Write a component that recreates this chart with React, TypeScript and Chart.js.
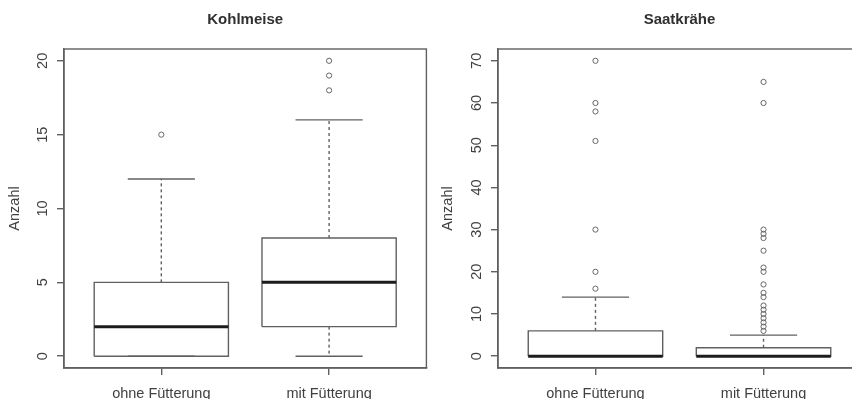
import React, { useEffect, useRef } from "react";
import { Chart, registerables } from "chart.js";

Chart.register(...registerables);

// ---------- data ----------
const categories = ["ohne Fütterung", "mit Fütterung"];

const kohlmeiseTitle = "Kohlmeise";
const kohlmeiseLowerWhisker = [0, 0];
const kohlmeiseQ1 = [0, 2];
const kohlmeiseMedian = [2, 5];
const kohlmeiseQ3 = [5, 8];
const kohlmeiseUpperWhisker = [12, 16];
const kohlmeiseOutliers = [[15], [18, 19, 20]];
const kohlmeiseTicks = [0, 5, 10, 15, 20];

const saatkraeheTitle = "Saatkrähe";
const saatkraeheLowerWhisker = [0, 0];
const saatkraeheQ1 = [0, 0];
const saatkraeheMedian = [0, 0];
const saatkraeheQ3 = [6, 2];
const saatkraeheUpperWhisker = [14, 5];
const saatkraeheOutliers = [
  [16, 20, 30, 51, 58, 60, 70],
  [6, 7, 8, 9, 10, 11, 12, 14, 15, 17, 20, 21, 25, 28, 29, 30, 60, 65],
];
const saatkraeheTicks = [0, 10, 20, 30, 40, 50, 60, 70];

const yAxisTitle = "Anzahl";

// ---------- styles ----------
const FONT = "'Liberation Sans', Arial, Helvetica, sans-serif";
const LINE = "#606060";
const TEXT = "#404040";
const BOX_HALF = 0.4;
const CAP_HALF = 0.2;

type BoxData = {
  title: string;
  lower: number[];
  q1: number[];
  median: number[];
  q3: number[];
  upper: number[];
  outliers: number[][];
  ticks: number[];
};

function buildDatasets(b: BoxData) {
  const ds: any[] = [];
  const line = (pts: { x: number; y: number }[], order: number, extra: any = {}) =>
    ds.push({
      type: "line",
      data: pts,
      borderColor: LINE,
      borderWidth: 1.4,
      pointRadius: 0,
      pointHoverRadius: 0,
      fill: false,
      tension: 0,
      order,
      ...extra,
    });
  for (let i = 0; i < categories.length; i++) {
    const x = i + 1;
    line([{ x, y: b.q3[i] }, { x, y: b.upper[i] }], 5, { borderDash: [3, 3] });
    line([{ x, y: b.q1[i] }, { x, y: b.lower[i] }], 5, { borderDash: [3, 3] });
    line([{ x: x - CAP_HALF, y: b.upper[i] }, { x: x + CAP_HALF, y: b.upper[i] }], 4);
    line([{ x: x - CAP_HALF, y: b.lower[i] }, { x: x + CAP_HALF, y: b.lower[i] }], 4);
    line(
      [
        { x: x - BOX_HALF, y: b.q1[i] },
        { x: x + BOX_HALF, y: b.q1[i] },
        { x: x + BOX_HALF, y: b.q3[i] },
        { x: x - BOX_HALF, y: b.q3[i] },
        { x: x - BOX_HALF, y: b.q1[i] },
      ],
      3,
      { borderJoinStyle: "miter" }
    );
    line([{ x: x - BOX_HALF, y: b.median[i] }, { x: x + BOX_HALF, y: b.median[i] }], 2, {
      borderColor: "#1c1c1c",
      borderWidth: 3,
    });
    ds.push({
      type: "scatter",
      data: b.outliers[i].map((y) => ({ x, y })),
      pointRadius: 2.6,
      pointHoverRadius: 2.6,
      pointStyle: "circle",
      pointBorderColor: "#666666",
      pointBackgroundColor: "rgba(0,0,0,0)",
      pointBorderWidth: 1,
      showLine: false,
      order: 1,
    });
  }
  return ds;
}

const framePlugin = {
  id: "frame",
  afterDraw(chart: any) {
    const { ctx, chartArea: a } = chart;
    ctx.save();
    ctx.strokeStyle = LINE;
    ctx.lineWidth = 1.4;
    ctx.strokeRect(a.left, a.top, a.right - a.left, a.bottom - a.top);
    ctx.restore();
  },
};

function Panel(props: {
  data: BoxData;
  left: number;
  width: number;
  yAxisWidth: number;
  rightPad: number;
  yTitlePad: number;
}) {
  const ref = useRef<HTMLCanvasElement>(null);
  const { data, left, width, yAxisWidth, rightPad, yTitlePad } = props;
  useEffect(() => {
    if (!ref.current) return;
    const all = [
      ...data.lower,
      ...data.upper,
      ...data.q1,
      ...data.q3,
      ...data.outliers.flat(),
    ];
    const lo = Math.min(...all);
    const hi = Math.max(...all);
    const ext = (hi - lo) * 0.04;
    const xLo = 0.5 - 0.04 * (categories.length - 0);
    const xHi = categories.length + 0.5 + 0.04 * categories.length;
    const chart = new Chart(ref.current, {
      type: "scatter",
      data: { datasets: buildDatasets(data) },
      options: {
        animation: false,
        responsive: false,
        devicePixelRatio: 1,
        events: [],
        layout: { padding: { left: 0, right: rightPad, top: 0, bottom: 0 } },
        plugins: {
          legend: { display: false },
          tooltip: { enabled: false },
          title: {
            display: true,
            text: data.title,
            fullSize: false,
            color: "#303030",
            font: { family: FONT, size: 15, weight: "bold" },
            padding: { top: 11, bottom: 20 },
          },
        },
        scales: {
          x: {
            type: "linear",
            min: xLo,
            max: xHi,
            afterBuildTicks: (s: any) => {
              s.ticks = categories.map((_, i) => ({ value: i + 1 }));
            },
            afterFit: (s: any) => {
              s.height = 31;
            },
            ticks: {
              callback: (_v: any, i: number) => categories[i],
              color: TEXT,
              font: { family: FONT, size: 14.5 },
              padding: 10,
              maxRotation: 0,
              minRotation: 0,
            },
            grid: {
              display: true,
              drawOnChartArea: false,
              drawTicks: true,
              tickLength: 7,
              color: LINE,
              lineWidth: 1.4,
            },
            border: { display: true, color: LINE, width: 1.4 },
          },
          y: {
            type: "linear",
            min: lo - ext,
            max: hi + ext,
            afterBuildTicks: (s: any) => {
              s.ticks = data.ticks.map((v) => ({ value: v }));
            },
            afterFit: (s: any) => {
              s.width = yAxisWidth;
            },
            ticks: {
              color: TEXT,
              font: { family: FONT, size: 14.5 },
              padding: 6,
              minRotation: 90,
              maxRotation: 90,
              crossAlign: "center",
            },
            grid: {
              display: true,
              drawOnChartArea: false,
              drawTicks: true,
              tickLength: 7,
              color: LINE,
              lineWidth: 1.4,
            },
            border: { display: true, color: LINE, width: 1.4 },
            title: {
              display: true,
              text: yAxisTitle,
              color: TEXT,
              font: { family: FONT, size: 14.5 },
              padding: { top: yTitlePad, bottom: 0 },
            },
          },
        },
      } as any,
      plugins: [framePlugin],
    });
    return () => chart.destroy();
  }, []);
  return (
    <canvas
      ref={ref}
      width={width}
      height={399}
      style={{ position: "absolute", left, top: 0, width, height: 399 }}
    />
  );
}

export default function App() {
  const kohl: BoxData = {
    title: kohlmeiseTitle,
    lower: kohlmeiseLowerWhisker,
    q1: kohlmeiseQ1,
    median: kohlmeiseMedian,
    q3: kohlmeiseQ3,
    upper: kohlmeiseUpperWhisker,
    outliers: kohlmeiseOutliers,
    ticks: kohlmeiseTicks,
  };
  const saat: BoxData = {
    title: saatkraeheTitle,
    lower: saatkraeheLowerWhisker,
    q1: saatkraeheQ1,
    median: saatkraeheMedian,
    q3: saatkraeheQ3,
    upper: saatkraeheUpperWhisker,
    outliers: saatkraeheOutliers,
    ticks: saatkraeheTicks,
  };
  return (
    <div
      style={{
        position: "fixed",
        left: 0,
        top: 0,
        width: 852,
        height: 399,
        overflow: "hidden",
        background: "#ffffff",
      }}
    >
      <Panel data={kohl} left={0} width={430} yAxisWidth={64} rightPad={2} yTitlePad={6.3} />
      <Panel data={saat} left={430} width={440} yAxisWidth={68} rightPad={9} yTitlePad={9.3} />
    </div>
  );
}
